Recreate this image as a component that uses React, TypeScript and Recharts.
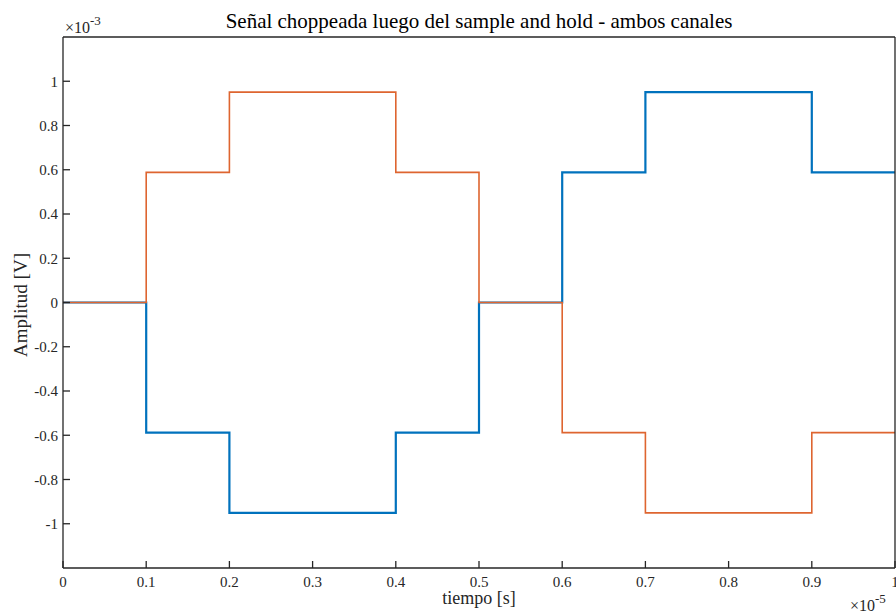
import React from 'react';
import { LineChart, Line, XAxis, YAxis } from 'recharts';

const tiempo = [0, 0.1, 0.2, 0.3, 0.4, 0.5, 0.6, 0.7, 0.8, 0.9, 1];
const canal1 = [0, -0.588, -0.951, -0.951, -0.588, 0, 0.588, 0.951, 0.951, 0.588, 0.588];
const canal2 = [0, 0.588, 0.951, 0.951, 0.588, 0, -0.588, -0.951, -0.951, -0.588, -0.588];
const xTicks = [0, 0.1, 0.2, 0.3, 0.4, 0.5, 0.6, 0.7, 0.8, 0.9, 1];
const yTicks = [-1, -0.8, -0.6, -0.4, -0.2, 0, 0.2, 0.4, 0.6, 0.8, 1];

const titleText = 'Señal choppeada luego del sample and hold - ambos canales';
const xLabel = 'tiempo [s]';
const yLabel = 'Amplitud [V]';

const data = tiempo.map((t, i) => ({ t, c1: canal1[i], c2: canal2[i] }));

const FONT = '"Liberation Serif", "Times New Roman", serif';
const AX = '#262626';

export default function App() {
  const tickStyle = { fontFamily: FONT, fontSize: 15, fill: AX };
  return (
    <div style={{ position: 'absolute', left: 0, top: 0, width: 896, height: 614, background: '#fff' }}>
      <LineChart width={896} height={614} data={data} margin={{ top: 36, right: 0, bottom: 0, left: 0 }}>
        <XAxis
          dataKey="t"
          type="number"
          domain={[0, 1]}
          ticks={xTicks}
          height={46}
          tickSize={-7}
          tickMargin={15}
          stroke={AX}
          strokeWidth={1.3}
          tick={tickStyle}
          interval={0}
          allowDataOverflow
        />
        <XAxis
          xAxisId="top"
          orientation="top"
          dataKey="t"
          type="number"
          domain={[0, 1]}
          ticks={xTicks}
          height={1}
          tickSize={-7}
          stroke={AX}
          strokeWidth={1.3}
          tick={false}
          interval={0}
          allowDataOverflow
        />
        <YAxis
          type="number"
          domain={[-1.2, 1.2]}
          ticks={yTicks}
          width={63}
          tickSize={-7}
          tickMargin={12}
          stroke={AX}
          strokeWidth={1.3}
          tick={tickStyle}
          interval={0}
          allowDataOverflow
        />
        <YAxis
          yAxisId="right"
          orientation="right"
          type="number"
          domain={[-1.2, 1.2]}
          ticks={yTicks}
          width={1}
          tickSize={-7}
          stroke={AX}
          strokeWidth={1.3}
          tick={false}
          interval={0}
          allowDataOverflow
        />
        <Line
          type="stepAfter"
          dataKey="c1"
          stroke="#0072BD"
          strokeWidth={2.2}
          dot={false}
          isAnimationActive={false}
        />
        <Line
          type="stepAfter"
          dataKey="c2"
          stroke="#DE6530"
          strokeWidth={1.6}
          dot={false}
          isAnimationActive={false}
        />
      </LineChart>
      <svg
        width={896}
        height={614}
        style={{ position: 'absolute', left: 0, top: 0, pointerEvents: 'none' }}
      >
        <text x={479} y={28} textAnchor="middle" fontFamily={FONT} fontSize={21} fill="#000">
          {titleText}
        </text>
        <text x={479} y={604} textAnchor="middle" fontFamily={FONT} fontSize={18} fill={AX}>
          {xLabel}
        </text>
        <text
          x={0}
          y={0}
          transform="translate(27,305) rotate(-90)"
          textAnchor="middle"
          fontFamily={FONT}
          fontSize={19}
          fill={AX}
        >
          {yLabel}
        </text>
        <text x={65} y={33} fontFamily={FONT} fontSize={16} fill={AX}>
          ×10
          <tspan dy={-8} fontSize={13}>-3</tspan>
        </text>
        <text x={850} y={611} fontFamily={FONT} fontSize={16} fill={AX}>
          ×10
          <tspan dy={-8} fontSize={13}>-5</tspan>
        </text>
      </svg>
    </div>
  );
}
